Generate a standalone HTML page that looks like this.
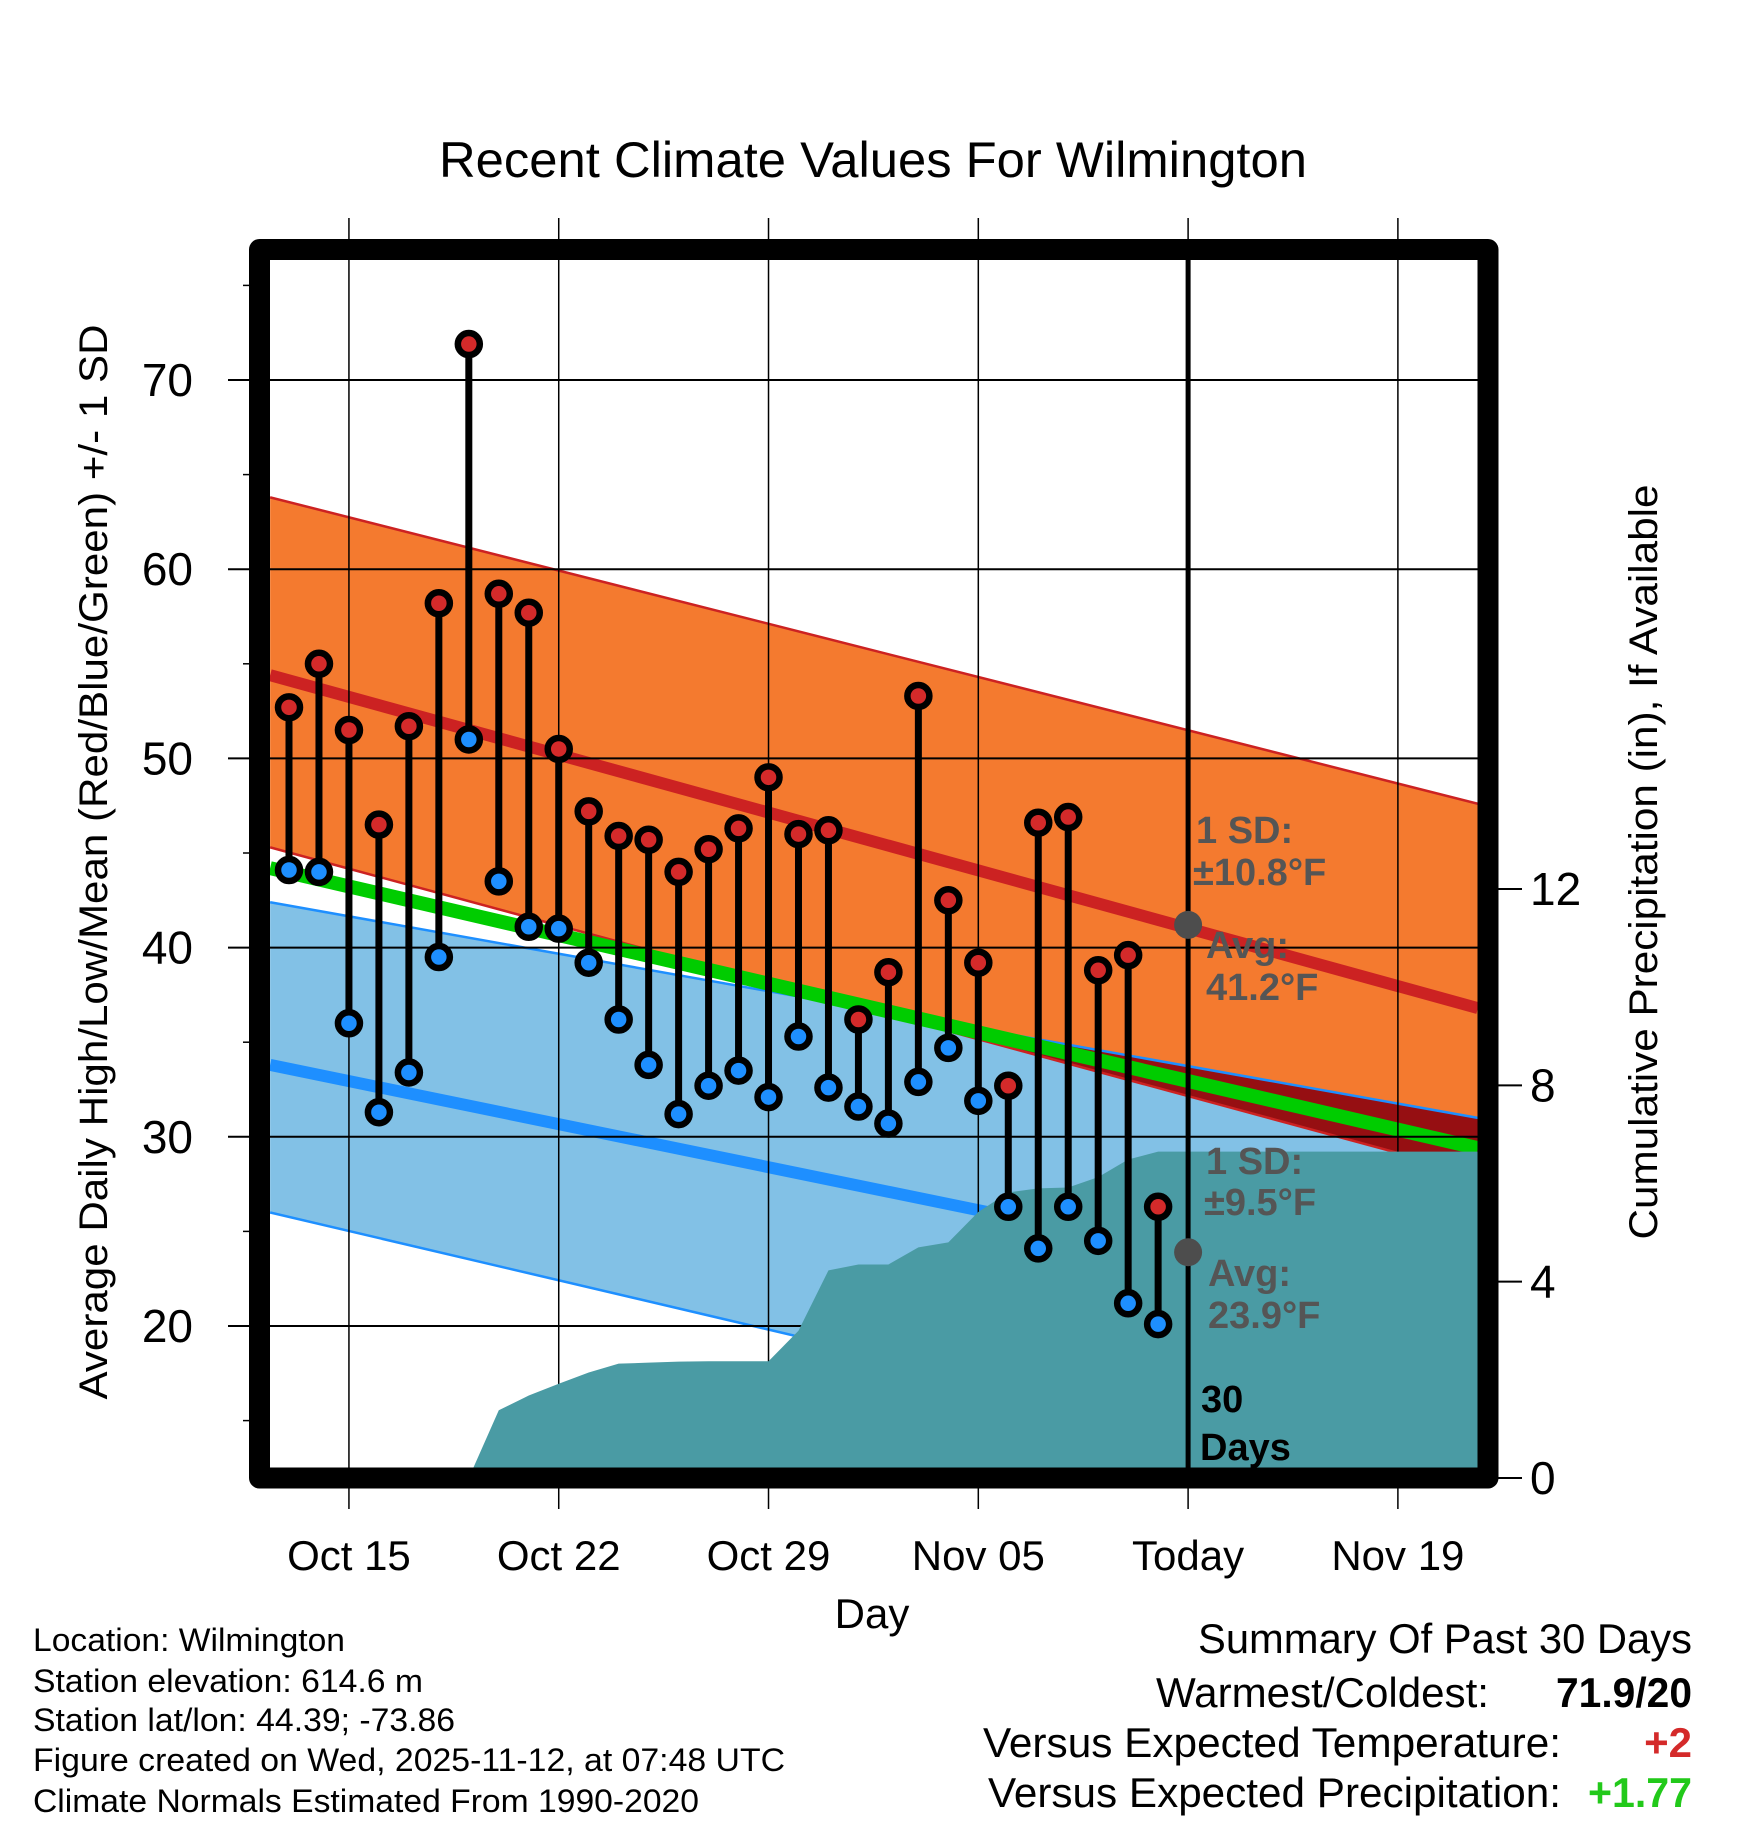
<!DOCTYPE html>
<html><head><meta charset="utf-8"><style>
html,body{margin:0;padding:0;background:#fff;}
svg{display:block;font-family:"Liberation Sans",sans-serif;}
</style></head><body>
<svg id="chart" width="1748" height="1828" viewBox="0 0 1748 1828" xmlns="http://www.w3.org/2000/svg">
<defs>
<clipPath id="plotClip"><rect x="270" y="260" width="1208" height="1208"/></clipPath>
</defs>
<g id="plot" clip-path="url(#plotClip)"></g>
<g id="axes"></g>
<g id="precipLayer" clip-path="url(#plotClip)"></g>
<g id="topLayer"></g>
<text x="873" y="177" text-anchor="middle" font-size="50" textLength="868" lengthAdjust="spacingAndGlyphs">Recent Climate Values For Wilmington</text>
<text transform="translate(107,862) rotate(-90)" text-anchor="middle" font-size="40" textLength="1075" lengthAdjust="spacingAndGlyphs">Average Daily High/Low/Mean (Red/Blue/Green) +/- 1 SD</text>
<text transform="translate(1657,862) rotate(-90)" text-anchor="middle" font-size="40" textLength="755" lengthAdjust="spacingAndGlyphs">Cumulative Precipitation (in), If Available</text>
<text x="872" y="1628" text-anchor="middle" font-size="42">Day</text>
<g font-size="32">
<text x="33" y="1651" textLength="312" lengthAdjust="spacingAndGlyphs">Location: Wilmington</text>
<text x="33" y="1692" textLength="390" lengthAdjust="spacingAndGlyphs">Station elevation: 614.6 m</text>
<text x="33" y="1731" textLength="422" lengthAdjust="spacingAndGlyphs">Station lat/lon: 44.39; -73.86</text>
<text x="33" y="1771" textLength="752" lengthAdjust="spacingAndGlyphs">Figure created on Wed, 2025-11-12, at 07:48 UTC</text>
<text x="33" y="1812" textLength="666" lengthAdjust="spacingAndGlyphs">Climate Normals Estimated From 1990-2020</text>
</g>
<g font-size="42">
<text x="1692" y="1653" text-anchor="end" textLength="494" lengthAdjust="spacingAndGlyphs">Summary Of Past 30 Days</text>
<text x="1489" y="1707" text-anchor="end" textLength="333" lengthAdjust="spacingAndGlyphs">Warmest/Coldest:</text>
<text x="1692" y="1707" text-anchor="end" font-weight="bold" textLength="136" lengthAdjust="spacingAndGlyphs">71.9/20</text>
<text x="1561" y="1757" text-anchor="end" textLength="578" lengthAdjust="spacingAndGlyphs">Versus Expected Temperature:</text>
<text x="1692" y="1757" text-anchor="end" font-weight="bold" fill="#d42a2a">+2</text>
<text x="1561" y="1807" text-anchor="end" textLength="573" lengthAdjust="spacingAndGlyphs">Versus Expected Precipitation:</text>
<text x="1692" y="1807" text-anchor="end" font-weight="bold" fill="#22c91a" textLength="104" lengthAdjust="spacingAndGlyphs">+1.77</text>
</g>
</svg>
<script>
// ---- data ----
const highs = [52.7,55.0,51.5,46.5,51.7,58.2,71.9,58.7,57.7,50.5,47.2,45.9,45.7,44.0,45.2,46.3,49.0,46.0,46.2,36.2,38.7,53.3,42.5,39.2,32.7,46.6,46.9,38.8,39.6,26.3];
const lows  = [44.1,44.0,36.0,31.3,33.4,39.5,51.0,43.5,41.1,41.0,39.2,36.2,33.8,31.2,32.7,33.5,32.1,35.3,32.6,31.6,30.7,32.9,34.7,31.9,26.3,24.1,26.3,24.5,21.2,20.1];
const precip = [0,0,0,0,0,0,0,1.38,1.68,1.92,2.15,2.33,2.35,2.37,2.38,2.38,2.38,3.0,4.23,4.35,4.35,4.7,4.8,5.42,5.82,5.9,5.92,6.13,6.49,6.65,6.65,6.65];
const normDays = [-0.63, 39.67];
const hiMean = [54.4, 36.8];
const hiUpper = [63.8, 47.6];
const hiLower = [45.3, 28.0];
const loMean = [33.8, 20.7];
const loUpper = [42.4, 31.0];
const loLower = [26.0, 11.0];
const avgMean = [44.2, 29.4];
const xTickDays = [2, 9, 16, 23, 30, 37];
const xTickLabels = ["Oct 15","Oct 22","Oct 29","Nov 05","Today","Nov 19"];
const yTicks = [20,30,40,50,60,70];
const yMinor = [15,25,35,45,55,65,75];
const pTicks = [0,4,8,12];
const todayDay = 30;
const todayHiAvg = 41.2, todayLoAvg = 23.9;

// ---- scales ----
const X = d => 289 + d*29.97;
const Y = v => 380 + (70 - v)*18.92;
const P = p => 1478 - p*49.08;
const NS = "http://www.w3.org/2000/svg";
function mk(tag, attrs, parent){const el=document.createElementNS(NS,tag);for(const k in attrs)el.setAttribute(k,attrs[k]);parent.appendChild(el);return el;}
const plotG = document.getElementById('plot');
const axesG = document.getElementById('axes');
const precipG = document.getElementById('precipLayer');
const topG = document.getElementById('topLayer');

function band(up, lo){
  return `${X(normDays[0])},${Y(up[0])} ${X(normDays[1])},${Y(up[1])} ${X(normDays[1])},${Y(lo[1])} ${X(normDays[0])},${Y(lo[0])}`;
}
function line(arr){return {x1:X(normDays[0]),y1:Y(arr[0]),x2:X(normDays[1]),y2:Y(arr[1])};}

let el;
el = mk('polygon',{points:band(hiUpper,hiLower),fill:'#f47a2f'},plotG);


el = mk('polygon',{points:band(loUpper,loLower),fill:'#82c1e6'},plotG);


const defs = document.querySelector('defs');
const cp = mk('clipPath',{id:'loClip'},defs);
mk('polygon',{points:band(loUpper,loLower)},cp);
el = mk('polygon',{points:band(hiUpper,hiLower),fill:'#960f12','clip-path':'url(#loClip)'},plotG);


const edgeLines = [[hiUpper,'#cc2222','high-upper-line'],[hiLower,'#cc2222','high-lower-line'],[loUpper,'#1e8fff','low-upper-line'],[loLower,'#1e8fff','low-lower-line']];
for (const [arr,c,n] of edgeLines){
  el = mk('line',Object.assign(line(arr),{stroke:c,'stroke-width':2.5}),plotG);
  
  
}
el = mk('line',Object.assign(line(avgMean),{stroke:'#00cc00','stroke-width':14}),plotG);


el = mk('line',Object.assign(line(hiMean),{stroke:'#cc2222','stroke-width':12}),plotG);


el = mk('line',Object.assign(line(loMean),{stroke:'#1e8fff','stroke-width':12}),plotG);



// gridlines & ticks
for (const v of yTicks){
  el = mk('line',{x1:228,x2:1478,y1:Y(v),y2:Y(v),stroke:'#000','stroke-width':2},axesG);
  
  
  el = mk('text',{x:193,y:Y(v)+16,'text-anchor':'end','font-size':46},axesG);
  el.textContent = v;
  
  
}
for (const v of yMinor){
  el = mk('line',{x1:243,x2:252,y1:Y(v),y2:Y(v),stroke:'#000','stroke-width':1.5},axesG);
  
  
}
xTickDays.forEach((d,i)=>{
  el = mk('line',{x1:X(d),x2:X(d),y1:218,y2:1509,stroke:'#000','stroke-width':1.5},axesG);
  
  
  el = mk('text',{x:X(d),y:1570,'text-anchor':'middle','font-size':42},axesG);
  el.textContent = xTickLabels[i];
  
  
});
for (const p of pTicks){
  el = mk('line',{x1:1488,x2:1522,y1:P(p),y2:P(p),stroke:'#000','stroke-width':2},axesG);
  
  
  el = mk('text',{x:1530,y:P(p)+16,'font-size':46},axesG);
  el.textContent = p;
  
  
}
// precip area
let pts = precip.map((p,i)=>`${X(i)},${P(p)}`);
pts.push(`${X(normDays[1])},${P(precip[precip.length-1])}`,`${X(normDays[1])},1500`,`${X(0)},1500`);
el = mk('polygon',{points:pts.join(' '),fill:'#4a9ba4'},precipG);



// today line
el = mk('line',{x1:X(todayDay),x2:X(todayDay),y1:260,y2:1468,stroke:'#000','stroke-width':5},topG);


highs.forEach((h,i)=>{
  el = mk('line',{x1:X(i),x2:X(i),y1:Y(h),y2:Y(lows[i]),stroke:'#000','stroke-width':7},topG);
  
  
});
highs.forEach((h,i)=>{
  el = mk('circle',{cx:X(i),cy:Y(h),r:11,fill:'#d42a2a',stroke:'#000','stroke-width':6.5},topG);
  
  
  el = mk('circle',{cx:X(i),cy:Y(lows[i]),r:11,fill:'#1e8fff',stroke:'#000','stroke-width':6.5},topG);
  
  
});
el = mk('circle',{cx:X(todayDay),cy:Y(todayHiAvg),r:14,fill:'#4d4d4d'},topG);


el = mk('circle',{cx:X(todayDay),cy:Y(todayLoAvg),r:14,fill:'#4d4d4d'},topG);


const ann = [
 ['1 SD:',1196,843,'#555','high-sd-label'],
 ['±10.8°F',1193,885,'#555','high-sd-value'],
 ['Avg:',1206,958,'#555','high-avg-label'],
 ['41.2°F',1206,1000,'#555','high-avg-value'],
 ['1 SD:',1206,1174,'#555','low-sd-label'],
 ['±9.5°F',1204,1215,'#555','low-sd-value'],
 ['Avg:',1208,1286,'#555','low-avg-label'],
 ['23.9°F',1208,1328,'#555','low-avg-value'],
 ['30',1201,1412,'#000','days-count'],
 ['Days',1200,1460,'#000','days-label']
];
for (const [t,x,y,c,n] of ann){
  el = mk('text',{x:x,y:y,'font-size':38,'font-weight':'bold',fill:c},topG);
  el.textContent = t;
  
  
}
el = mk('rect',{x:259.5,y:249.5,width:1228.5,height:1228.5,fill:'none',stroke:'#000','stroke-width':21,'stroke-linejoin':'round'},topG);


</script>
</body></html>
